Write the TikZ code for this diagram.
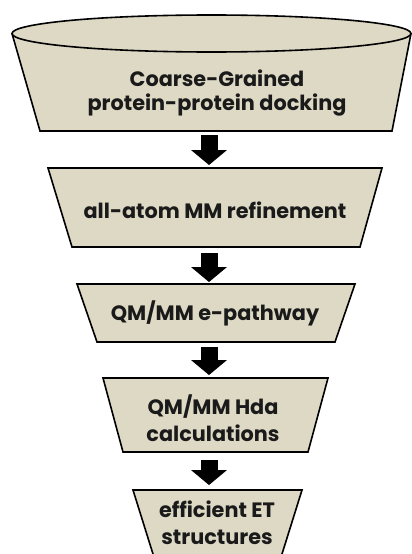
\documentclass[tikz,border=0pt]{standalone}
\usepackage{fontspec}
\setmainfont{Poppins}
\usetikzlibrary{arrows.meta}
\definecolor{stagefill}{RGB}{221,217,196}
\definecolor{stagetext}{RGB}{26,26,26}
\tikzset{
  stage/.style={fill=stagefill, draw=black, line width=1.6pt, line join=miter},
  stagelabel/.style={align=center, text=stagetext, inner sep=0pt,
    font=\bfseries\fontsize{20.8}{24}\selectfont},
  flowarrow/.style={draw=black, line width=17pt,
    -{Triangle[width=36pt,length=15pt,line width=0pt]}},
}
\begin{document}
\begin{tikzpicture}[x=1pt,y=-1pt]
  \useasboundingbox (0,0) rectangle (412,554);
  \clip (0,0) rectangle (412,554);
  \fill[white] (0,0) rectangle (412,554);

  % stage 1: open funnel top
  \fill[stagefill] (12,33.5) -- (40,131) -- (392,131) -- (411,33.5) -- cycle;
  \draw[stage, fill=none] (12,33.5) -- (40,131) -- (392,131) -- (411,33.5);
  \draw[stage] (211.5,33.5) ellipse [x radius=199.5, y radius=18.5];
  \coordinate (s1-bot) at (209,131);
  \node[stagelabel] (s1) at (217,93) {Coarse-Grained\\protein-protein docking};

  % stage 2
  \draw[stage] (48,168) -- (382,168) -- (360,247) -- (72,247) -- cycle;
  \coordinate (s2-top) at (209,168);
  \coordinate (s2-bot) at (209,247);
  \node[stagelabel] (s2) at (215,210) {all-atom MM refinement};

  % stage 3
  \draw[stage] (77,284) -- (355,284) -- (335,342) -- (97,342) -- cycle;
  \coordinate (s3-top) at (209,284);
  \coordinate (s3-bot) at (209,342);
  \node[stagelabel] (s3) at (215,313) {QM/MM e-pathway};

  % stage 4
  \draw[stage] (103,378) -- (328,378) -- (308,452) -- (123,452) -- cycle;
  \coordinate (s4-top) at (209,378);
  \coordinate (s4-bot) at (209,452);
  \node[stagelabel, font=\bfseries\fontsize{20.8}{27}\selectfont] (s4) at (213,418) {QM/MM Hda\\calculations};

  % stage 5 (runs past the lower edge)
  \draw[stage] (133,490) -- (302,490) -- (277,570) -- (158,570) -- cycle;
  \coordinate (s5-top) at (209,490);
  \node[stagelabel, font=\bfseries\fontsize{20.8}{27}\selectfont] (s5) at (217,523) {efficient ET\\structures};

  % arrows between stages
  \draw[flowarrow, shorten <=4pt, shorten >=3pt] (s1-bot) -- (s2-top);
  \draw[flowarrow, shorten <=6pt, shorten >=2pt] (s2-bot) -- (s3-top);
  \draw[flowarrow, shorten <=5pt, shorten >=3pt] (s3-bot) -- (s4-top);
  \draw[flowarrow, shorten <=8pt, shorten >=5pt] (s4-bot) -- (s5-top);
\end{tikzpicture}
\end{document}
